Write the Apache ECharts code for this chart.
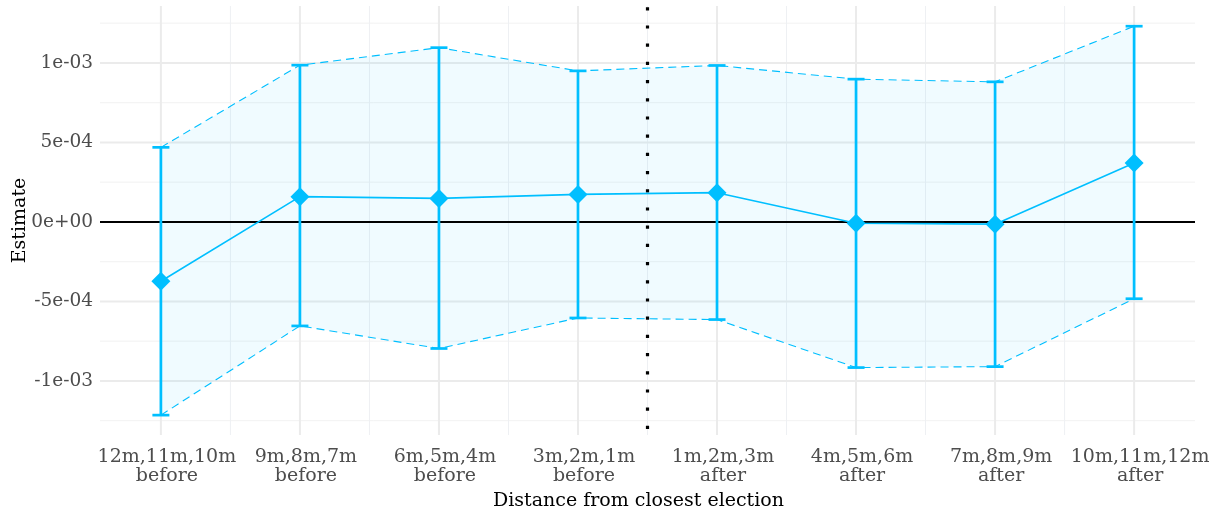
<!DOCTYPE html>
<html><head><meta charset="utf-8">
<script src="https://cdn.jsdelivr.net/npm/echarts@6/dist/echarts.min.js"></script>
<style>html,body{margin:0;padding:0;background:#fff}#c{width:1226px;height:510px}</style>
</head><body><div id="c"></div>
<script>
const categories = ['12m,11m,10m\nbefore','9m,8m,7m\nbefore','6m,5m,4m\nbefore','3m,2m,1m\nbefore','1m,2m,3m\nafter','4m,5m,6m\nafter','7m,8m,9m\nafter','10m,11m,12m\nafter'];
const xPositions = [1,2,3,4,5,6,7,8];
const estimate = [-3.73e-4, 1.59e-4, 1.48e-4, 1.73e-4, 1.84e-4, -8e-6, -1.4e-5, 3.71e-4];
const upper = [4.69e-4, 9.86e-4, 1.096e-3, 9.5e-4, 9.84e-4, 8.98e-4, 8.81e-4, 1.231e-3];
const lower = [-1.215e-3, -6.54e-4, -7.96e-4, -6.04e-4, -6.14e-4, -9.16e-4, -9.1e-4, -4.83e-4];
const yTicks = [-1e-3, -5e-4, 0, 5e-4, 1e-3];
const yTickLabels = ['-1e-03','-5e-04','0e+00','5e-04','1e-03'];
const yMinorTicks = [-1.25e-3, -7.5e-4, -2.5e-4, 2.5e-4, 7.5e-4, 1.25e-3];
const xMinorTicks = [1.5,2.5,3.5,4.5,5.5,6.5,7.5];
const electionBoundary = 4.5;

const X_MIN = 0.562, X_MAX = 8.438, Y_MIN = -1.34e-3, Y_MAX = 1.358e-3;
const FONT = 'DejaVu Serif';
const BLUE = '#00BFFF';
const chart = echarts.init(document.getElementById('c'), null, {renderer:'canvas'});

const pts = (ys) => xPositions.map((x,i)=>[x, ys[i]]);

// gridline items: [orientation(0=horizontal,1=vertical), value, kind(0 minor,1 major)]
const gridItems = [].concat(
  yMinorTicks.map(v=>[0, v, 0]),
  xMinorTicks.map(v=>[1, v, 0]),
  yTicks.filter(v=>v!==0).map(v=>[0, v, 1]),
  xPositions.map(v=>[1, v, 1])
);

const option = {
  animation: false,
  backgroundColor: '#fff',
  grid: {left: 100, right: 31, top: 6, bottom: 75, containLabel: false, outerBoundsMode: 'none'},
  xAxis: {
    type: 'value', min: X_MIN, max: X_MAX,
    name: 'Distance from closest election', nameLocation: 'middle', nameGap: 57,
    nameTextStyle: {fontFamily: FONT, fontSize: 19, color: '#000', padding: [0, 18, 0, 0]},
    axisLine: {show:false}, axisTick: {show:false}, splitLine: {show:false},
    axisLabel: {
      customValues: xPositions,
      formatter: (v) => { const i = xPositions.indexOf(Math.round(v)); return i >= 0 ? categories[i] : ''; },
      fontFamily: FONT, fontSize: 19, color: '#4D4D4D', lineHeight: 19, margin: 13,
      padding: [0, 0, 0, 12]
    }
  },
  yAxis: {
    type: 'value', min: Y_MIN, max: Y_MAX,
    name: 'Estimate', nameLocation: 'middle', nameGap: 70, nameRotate: 90, nameMoveOverlap: false,
    nameTextStyle: {fontFamily: FONT, fontSize: 19, color: '#000'},
    axisLine: {show:false}, axisTick: {show:false}, splitLine: {show:false},
    axisLabel: {
      customValues: yTicks,
      formatter: (v) => { const i = yTicks.findIndex(t => Math.abs(t - v) < 1e-9); return i >= 0 ? yTickLabels[i] : ''; },
      fontFamily: FONT, fontSize: 18.5, color: '#4D4D4D', margin: 7
    }
  },
  series: [
    {
      type: 'custom', z: 1, silent: true, clip: false,
      data: gridItems,
      renderItem: function(params, api) {
        const o = api.value(0), v = api.value(1), major = api.value(2);
        let p1, p2;
        if (o === 0) { p1 = api.coord([X_MIN, v]); p2 = api.coord([X_MAX, v]); }
        else { p1 = api.coord([v, Y_MIN]); p2 = api.coord([v, Y_MAX]); }
        const color = major ? '#EBEBEB' : (o === 0 ? '#F2F2F2' : '#EEF0F3');
        return {type:'line', shape:{x1:p1[0], y1:p1[1], x2:p2[0], y2:p2[1]}, style:{stroke: color, lineWidth: major ? 2 : 1}};
      }
    },
    {
      type: 'custom', z: 2, silent: true,
      data: xPositions.map((x,i)=>[x, upper[i], lower[i]]),
      renderItem: function(params, api) {
        if (params.dataIndex !== 0) return null;
        const top = xPositions.map((x,i)=>api.coord([x, upper[i]]));
        const bot = xPositions.map((x,i)=>api.coord([x, lower[i]])).reverse();
        return {type:'polygon', shape:{points: top.concat(bot)}, style:{fill:'rgba(0,191,255,0.06)'}};
      }
    },
    {
      type: 'line', data: [], z: 3, silent: true,
      markLine: {
        silent: true, symbol: ['none','none'], label: {show:false}, animation: false,
        data: [
          {yAxis: 0, lineStyle: {color:'#000', width: 1.8, type:'solid'}},
          {xAxis: electionBoundary, lineStyle: {color:'#000', width: 3.2, type:[3.2, 15], cap:'butt', dashOffset: -6}}
        ]
      }
    },
    {type:'line', data: pts(upper), z: 4, symbol:'none', lineStyle:{color:BLUE, width:1.1, type:[8,5]}},
    {type:'line', data: pts(lower), z: 4, symbol:'none', lineStyle:{color:BLUE, width:1.1, type:[8,5]}},
    {
      type: 'custom', z: 5,
      data: xPositions.map((x,i)=>[x, lower[i], upper[i]]),
      renderItem: function(params, api) {
        const x = api.value(0);
        const lo = api.coord([x, api.value(1)]);
        const hi = api.coord([x, api.value(2)]);
        const hw = 8.5;
        const st = {stroke: BLUE, lineWidth: 2.7};
        return {type:'group', children:[
          {type:'line', shape:{x1:lo[0], y1:lo[1], x2:hi[0], y2:hi[1]}, style:st},
          {type:'line', shape:{x1:lo[0]-hw, y1:lo[1], x2:lo[0]+hw, y2:lo[1]}, style:st},
          {type:'line', shape:{x1:hi[0]-hw, y1:hi[1], x2:hi[0]+hw, y2:hi[1]}, style:st}
        ]};
      }
    },
    {
      type: 'line', data: pts(estimate), z: 6,
      symbol: 'diamond', symbolSize: 19, showAllSymbol: true,
      itemStyle: {color: BLUE}, lineStyle: {color: BLUE, width: 1.6}
    }
  ]
};
chart.setOption(option);
</script></body></html>
